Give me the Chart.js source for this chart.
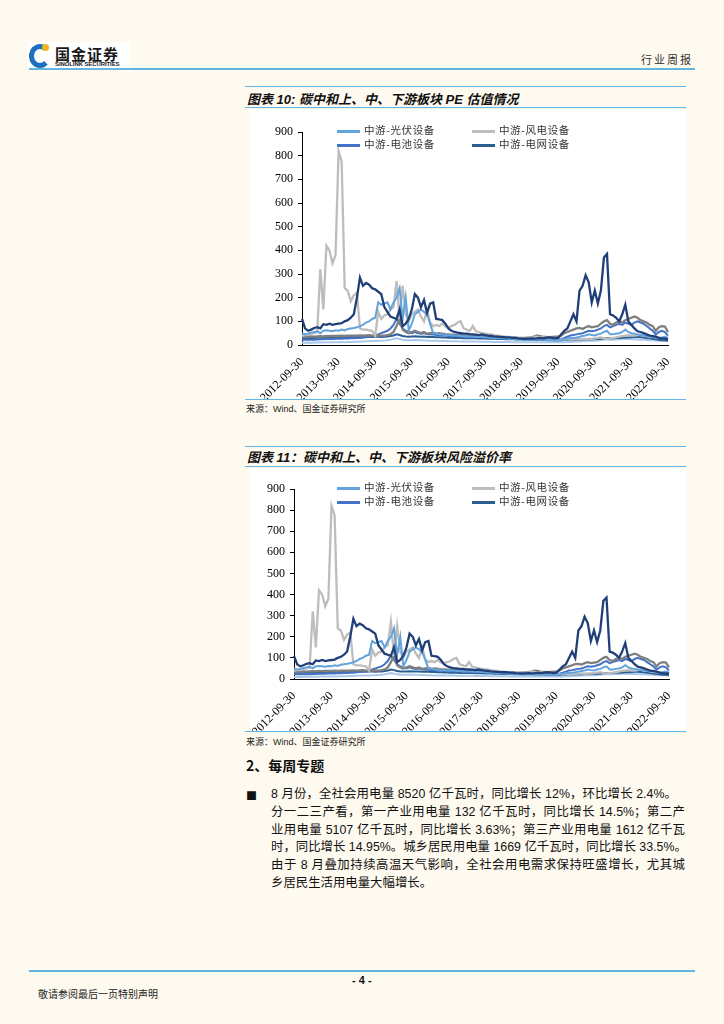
<!DOCTYPE html>
<html>
<head>
<meta charset="utf-8">
<title>行业周报</title>
<script src="https://cdn.jsdelivr.net/npm/chart.js"></script>
<style>
  body { margin: 0; background: #fefaef; font-family: "Liberation Sans", "Noto Sans CJK SC", sans-serif; }
  #page { position: relative; width: 724px; height: 1024px; overflow: hidden; }
  .abs { position: absolute; }
  .rule { position: absolute; height: 0; border-top: 2px solid #63b6e4; }
  .thin { border-top-width: 1.5px; }
  .logo { left: 28px; top: 42px; width: 102px; height: 26px; background: #fff; }
  .ring { left: 1px; top: 2px; width: 12px; height: 14px; border: 5px solid #1f6fc0; border-radius: 50%; border-right-color: transparent; }
  .dot { left: 14px; top: 2px; width: 7px; height: 7px; border-radius: 50%; background: #f2b31b; }
  .logo-cn { left: 27px; top: 1px; font: bold 15px "Noto Sans CJK SC"; color: #1a1a1a; letter-spacing: 1px; }
  .logo-en { left: 27px; top: 19px; font: bold 6px "Liberation Sans"; color: #1a1a1a; letter-spacing: -0.1px; white-space: nowrap; }
  .title { left: 247px; font: italic bold 13px "Liberation Sans", "Noto Sans CJK SC"; color: #111; white-space: nowrap; }
  .source { left: 246px; font: 9px "Liberation Sans", "Noto Sans CJK SC"; color: #222; white-space: nowrap; }
  .panel { left: 250px; width: 436px; background: #fff; }
  .legend { font: 10.5px "Noto Sans CJK SC"; color: #333; letter-spacing: 0.6px; white-space: nowrap; }
  .legend span.key { position: absolute; height: 3px; width: 23px; }
  .legend span.txt { position: absolute; line-height: 12px; }
  .para { left: 271px; font: 12.4px "Liberation Sans", "Noto Sans CJK SC"; color: #111; }
  .para div { height: 17.8px; line-height: 17.8px; text-align: justify; text-align-last: justify; white-space: nowrap; }
</style>
</head>
<body>
<div id="page">
  <div class="abs logo">
    <div class="abs ring"></div>
    <div class="abs dot"></div>
    <div class="abs logo-cn">国金证券</div>
    <div class="abs logo-en">SINOLINK SECURITIES</div>
  </div>
  <div class="abs" style="left:641px;top:51px;font:11px 'Noto Sans CJK SC';letter-spacing:2px;color:#333;">行业周报</div>
  <div class="rule" style="left:29px;top:68px;width:666px;"></div>

  <!-- chart 10 -->
  <div class="rule thin" style="left:245px;top:86px;width:441px;"></div>
  <div class="abs title" style="top:89px;">图表 10: 碳中和上、中、下游板块 PE 估值情况</div>
  <div class="rule thin" style="left:245px;top:107px;width:441px;"></div>
  <div class="abs panel" style="top:109px;height:290px;">
    <canvas id="chart1" width="436" height="290"></canvas>
  </div>
  <div class="abs legend" id="legend1" style="left:0;top:0;"></div>
  <div class="rule thin" style="left:245px;top:399px;width:441px;"></div>
  <div class="abs source" style="top:402px;">来源：Wind、国金证券研究所</div>

  <!-- chart 11 -->
  <div class="rule thin" style="left:245px;top:446px;width:441px;"></div>
  <div class="abs title" style="top:447px;">图表 11：碳中和上、中、下游板块风险溢价率</div>
  <div class="rule thin" style="left:245px;top:466px;width:441px;"></div>
  <div class="abs panel" style="top:468px;height:263px;">
    <canvas id="chart2" width="436" height="263"></canvas>
  </div>
  <div class="abs legend" id="legend2" style="left:0;top:0;"></div>
  <div class="rule thin" style="left:245px;top:731px;width:441px;"></div>
  <div class="abs source" style="top:735px;">来源：Wind、国金证券研究所</div>

  <div class="abs" style="left:246px;top:755px;font:bold 14px 'Noto Sans CJK SC';color:#111;">2、每周专题</div>
  <div class="abs" style="left:246px;top:787px;font:11px 'Noto Sans CJK SC';color:#111;">■</div>
  <div class="abs para" style="top:786px;">
    <div style="width:406px;">8 月份，全社会用电量 8520 亿千瓦时，同比增长 12%，环比增长 2.4%。</div>
    <div style="width:414px;">分一二三产看，第一产业用电量 132 亿千瓦时，同比增长 14.5%；第二产</div>
    <div style="width:414px;">业用电量 5107 亿千瓦时，同比增长 3.63%；第三产业用电量 1612 亿千瓦</div>
    <div style="width:415px;">时，同比增长 14.95%。城乡居民用电量 1669 亿千瓦时，同比增长 33.5%。</div>
    <div style="width:414px;">由于 8 月叠加持续高温天气影响，全社会用电需求保持旺盛增长，尤其城</div>
    <div style="text-align:left;text-align-last:left;">乡居民生活用电量大幅增长。</div>
  </div>

  <div class="rule" style="left:29px;top:970px;width:666px;"></div>
  <div class="abs" style="left:352px;top:974px;font:bold 11px 'Liberation Sans';color:#111;">- 4 -</div>
  <div class="abs" style="left:38px;top:986px;font:10px 'Noto Sans CJK SC';color:#222;">敬请参阅最后一页特别声明</div>
</div>

<script>
  // x tick labels, one per year; monthly points in between (index 0 = 2012-09, 120 = 2022-09)
  const tickLabels = ['2012-09-30', '2013-09-30', '2014-09-30', '2015-09-30', '2016-09-30', '2017-09-30',
                      '2018-09-30', '2019-09-30', '2020-09-30', '2021-09-30', '2022-09-30'];

  const legendNames = ['中游-光伏设备', '中游-风电设备', '中游-电池设备', '中游-电网设备'];

  const pvEquip = [
    50, 45, 48, 52, 55, 58, 50, 60, 62, 60, 58, 62,
    60, 65, 62, 68, 70, 72, 75, 80, 85, 95, 100, 110,
    115, 180, 170, 175, 180, 150, 180, 200, 240, 110, 200, 60,
    90, 130, 140, 150, 140, 130, 90, 50, 48, 45, 44, 42,
    42, 40, 40, 40, 38, 38, 36, 36, 35, 35, 34, 34,
    33, 32, 31, 30, 30, 28, 28, 27, 26, 25, 25, 24,
    24, 23, 22, 22, 22, 22, 22, 22, 22, 21, 20, 20,
    20, 22, 25, 28, 30, 30, 32, 35, 38, 40, 45, 42,
    40, 45, 48, 55, 60, 45, 45, 48, 50, 55, 65, 55,
    50, 48, 45, 42, 40, 38, 38, 35, 32, 30, 32, 35,
    30
  ];
  const windEquip = [
    40, 42, 45, 48, 50, 55, 320, 150, 420, 400, 345, 380,
    820, 775, 240, 230, 185, 210, 220, 70, 65, 65, 62, 60,
    40, 140, 110, 125, 130, 150, 160, 270, 110, 250, 130, 100,
    130, 140, 150, 120, 100, 150, 95, 80, 85, 80, 90, 78,
    75, 80, 85, 95, 100, 70, 65, 60, 80, 58, 55, 50,
    48, 46, 45, 42, 40, 38, 36, 35, 34, 32, 30, 30,
    28, 27, 28, 30, 32, 34, 33, 32, 30, 28, 27, 26,
    25, 24, 23, 24, 25, 24, 24, 25, 26, 25, 27, 26,
    28, 30, 32, 28, 26, 28, 30, 32, 35, 38, 40, 42,
    40, 40, 42, 44, 40, 38, 36, 34, 32, 30, 30, 30,
    28
  ];
  const batteryEquip = [
    22, 22, 23, 22, 22, 23, 24, 24, 25, 25, 25, 26,
    26, 26, 27, 27, 28, 28, 30, 30, 32, 33, 35, 38,
    40, 45, 50, 55, 60, 70, 85, 110, 90, 70, 60, 55,
    50, 55, 50, 48, 50, 45, 46, 44, 42, 42, 40, 40,
    38, 38, 37, 37, 36, 36, 35, 35, 35, 34, 34, 34,
    34, 33, 33, 32, 32, 31, 31, 30, 30, 29, 29, 28,
    28, 28, 27, 27, 27, 26, 26, 26, 25, 25, 25, 25,
    25, 26, 30, 35, 40, 42, 45, 48, 50, 55, 60, 58,
    60, 65, 70, 80, 85, 75, 80, 85, 90, 85, 95, 90,
    85, 95, 100, 95, 90, 80, 70, 60, 45, 55, 60, 55,
    40
  ];
  const gridEquip = [
    30, 30, 31, 30, 30, 31, 32, 31, 32, 32, 33, 32,
    33, 33, 32, 33, 34, 33, 34, 34, 33, 34, 35, 34,
    35, 35, 34, 35, 36, 38, 40, 45, 42, 38, 36, 35,
    36, 37, 36, 35, 36, 34, 35, 34, 33, 33, 32, 32,
    31, 31, 30, 30, 30, 29, 29, 28, 28, 28, 27, 27,
    27, 26, 26, 26, 25, 25, 25, 24, 24, 24, 23, 23,
    23, 22, 22, 22, 22, 21, 21, 21, 21, 20, 20, 20,
    20, 20, 21, 21, 22, 22, 22, 23, 23, 24, 24, 24,
    25, 25, 26, 27, 28, 28, 29, 30, 30, 31, 32, 32,
    33, 34, 34, 33, 32, 30, 28, 26, 24, 22, 20, 20,
    18
  ];
  // series drawn in the chart but cut off from its legend
  const otherNavy = [
    110, 70, 60, 65, 72, 75, 70, 88, 85, 90, 85, 88,
    90, 92, 100, 105, 115, 130, 200, 285, 250, 262, 255, 240,
    235, 225, 215, 160, 140, 120, 115, 110, 150, 80, 90, 110,
    150, 215, 200, 160, 190, 135, 175, 180, 110, 108, 105, 90,
    70, 60, 55, 52, 50, 48, 48, 46, 45, 44, 42, 45,
    42, 40, 38, 36, 35, 34, 33, 32, 32, 30, 30, 28,
    27, 26, 27, 28, 27, 28, 30, 28, 30, 32, 30, 28,
    30, 45, 60, 70, 100, 130, 100, 230, 250, 295, 265, 180,
    230, 175, 230, 370, 385, 130, 125, 115, 100, 130, 170, 100,
    85, 70, 58, 55, 50, 45, 40, 38, 35, 30, 28, 27,
    25
  ];
  const otherGrey = [
    35, 34, 35, 36, 35, 36, 37, 36, 38, 37, 38, 38,
    38, 39, 38, 40, 40, 39, 40, 41, 40, 41, 42, 40,
    40, 41, 40, 40, 42, 45, 55, 80, 110, 65, 55, 50,
    55, 60, 55, 50, 55, 48, 50, 52, 48, 50, 48, 46,
    45, 44, 44, 43, 42, 42, 41, 40, 40, 39, 38, 38,
    37, 36, 36, 35, 34, 34, 33, 33, 32, 32, 31, 30,
    30, 30, 31, 32, 35, 40, 38, 35, 34, 33, 34, 35,
    35, 40, 50, 55, 60, 65, 70, 72, 68, 75, 80, 75,
    78, 80, 90, 100, 105, 90, 85, 95, 100, 95, 105, 110,
    115, 120, 115, 105, 100, 95, 85, 80, 60, 75, 80, 78,
    55
  ];
  const otherPale = [
    10, 10, 11, 10, 11, 11, 12, 11, 12, 12, 12, 12,
    12, 13, 12, 13, 13, 14, 14, 15, 15, 16, 16, 17,
    17, 18, 18, 19, 20, 22, 25, 28, 25, 22, 20, 20,
    20, 21, 20, 20, 19, 19, 18, 18, 18, 17, 17, 17,
    16, 16, 16, 16, 15, 15, 15, 15, 15, 15, 14, 14,
    14, 14, 14, 13, 13, 13, 13, 13, 13, 12, 12, 12,
    12, 12, 12, 12, 12, 12, 12, 12, 12, 12, 12, 12,
    12, 12, 12, 13, 13, 14, 15, 15, 16, 17, 18, 18,
    18, 19, 20, 22, 24, 22, 22, 23, 24, 25, 26, 25,
    24, 24, 23, 22, 22, 21, 20, 20, 19, 18, 18, 18,
    17
  ];

  const months = pvEquip.map((v, i) => i);
  const colors = { pv: '#62a3dd', wind: '#bdbdbd', battery: '#4472c4', grid: '#2a5e93',
                   navy: '#203f78', grey: '#7f7f7f', pale: '#a9c8ea' };

  function makeLegend(id, top) {
    const el = document.getElementById(id);
    const items = [[legendNames[0], colors.pv, 337, top], [legendNames[1], colors.wind, 472, top],
                   [legendNames[2], colors.battery, 337, top + 14], [legendNames[3], colors.grid, 472, top + 14]];
    items.forEach(([name, col, x, y]) => {
      el.insertAdjacentHTML('beforeend',
        `<span class="key" style="left:${x}px;top:${y - 1}px;background:${col}"></span>` +
        `<span class="txt" style="left:${x + 27}px;top:${y - 7}px">${name}</span>`);
    });
  }

  function drawChart(id, pad, yWidth, xHeight) {
    const ds = (data, color, w) => ({ data: data, borderColor: color, borderWidth: w || 2, pointRadius: 0, fill: false, tension: 0 });
    new Chart(document.getElementById(id), {
      type: 'line',
      data: {
        labels: months,
        datasets: [
          ds(otherNavy, colors.navy, 2.3),
          ds(pvEquip, colors.pv),
          ds(windEquip, colors.wind, 2.3),
          ds(otherGrey, colors.grey, 2.3),
          ds(batteryEquip, colors.battery),
          ds(gridEquip, colors.grid),
          ds(otherPale, colors.pale)
        ]
      },
      options: {
        responsive: false,
        animation: false,
        layout: { padding: { top: pad.top, right: pad.right, left: 0, bottom: 0 } },
        plugins: { legend: { display: false }, tooltip: { enabled: false } },
        scales: {
          x: {
            grid: { display: false },
            border: { display: true, color: '#000', width: 1 },
            ticks: {
              autoSkip: false, minRotation: 45, maxRotation: 45, padding: 2,
              color: '#000', font: { family: 'Liberation Serif', size: 12 },
              callback: (v, i) => i % 12 === 0 ? tickLabels[i / 12] : null
            },
            afterFit: s => { s.height = xHeight; }
          },
          y: {
            min: 0, max: 900,
            ticks: { stepSize: 100, padding: 5, color: '#000', font: { family: 'Liberation Serif', size: 12 } },
            grid: { drawOnChartArea: false, tickLength: 4, color: '#000' },
            border: { display: true, color: '#000', width: 1 },
            afterFit: s => { s.width = yWidth; }
          }
        }
      }
    });
  }

  drawChart('chart1', { top: 23, right: 18 }, 52, 54);
  drawChart('chart2', { top: 21, right: 17 }, 44, 52);
  makeLegend('legend1', 131);
  makeLegend('legend2', 488);
</script>
</body>
</html>
